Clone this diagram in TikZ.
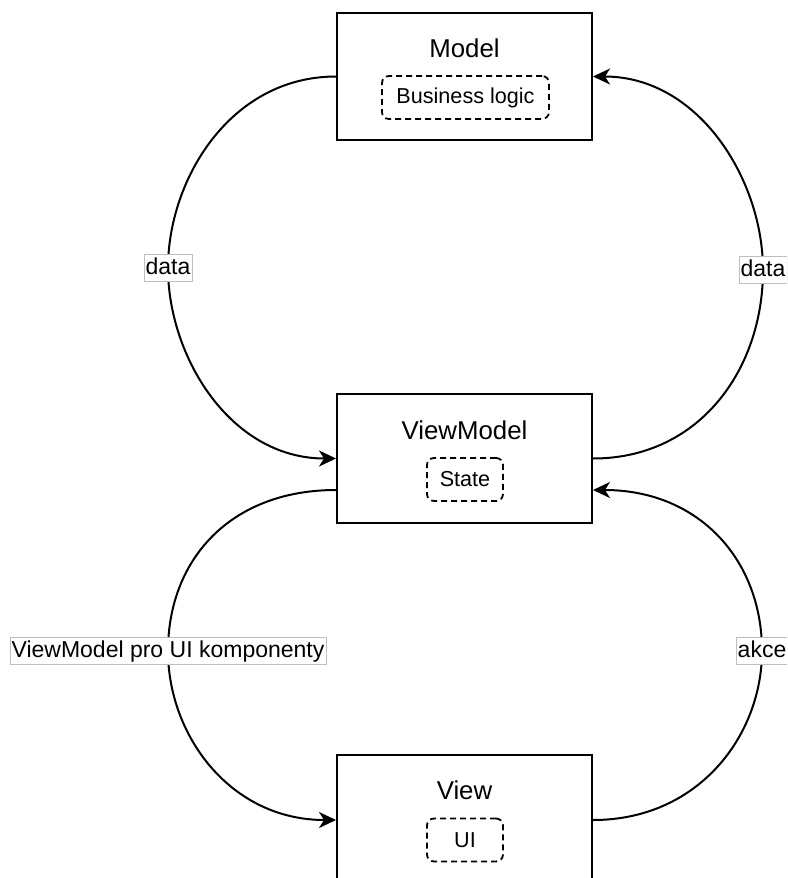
\documentclass[tikz,border=0pt]{standalone}
\usepackage{fontspec}
\setmainfont{Liberation Sans}
\usetikzlibrary{arrows.meta}
\begin{document}
\begin{tikzpicture}[x=1pt,y=-1pt,
  bigbox/.style={draw=black,line width=2pt,fill=white,minimum width=255pt,inner sep=0pt},
  title/.style={font=\fontsize{25.8}{30}\selectfont,inner sep=0pt},
  inner/.style={draw=black,line width=1.8pt,dash pattern=on 6pt off 4pt,rounded corners=7pt,minimum height=43pt,inner sep=0pt,font=\fontsize{21.6}{25}\selectfont},
  edge/.style={line width=2pt,-{Stealth[length=17pt,width=16pt,inset=5pt]}},
  lbl/.style={draw=black!25,line width=0.6pt,fill=white,inner sep=1.5pt,font=\fontsize{23}{27}\selectfont,text height=18pt,text depth=6pt}]
\useasboundingbox (0,0) rectangle (787,878);
\clip (0,0) rectangle (787,878);
% boxes
\node[bigbox,minimum height=127pt] (model) at (464.5,76.5) {};
\node[title] (modelt) at (464.5,48) {Model};
\node[inner,minimum width=167pt] (bl) at (465.5,97.5) {Business logic};
\node[bigbox,minimum height=129pt] (vm) at (464.5,458.5) {};
\node[title] (vmt) at (464.5,430) {ViewModel};
\node[inner,minimum width=76pt] (st) at (465,479.5) {State};
\node[bigbox,minimum height=130pt] (view) at (464.5,820) {};
\node[title] (viewt) at (464.5,790) {View};
\node[inner,minimum width=76pt] (ui) at (465,840) {UI};
% connectors
\draw[edge] (model.west) .. controls (230,76.5) and (168,180) .. (168,268) node[lbl] (l1) {data}
  .. controls (168,356) and (230,458.5) .. (vm.west);
\draw[edge] (vm.east) .. controls (699,458.5) and (763,370) .. (763,270) node[lbl] (l2) {data}
  .. controls (763,180) and (699,76.5) .. (model.east);
\draw[edge] ([yshift=-31.5pt]vm.west) .. controls (230,490) and (168,560) .. (168,651) node[lbl] (l3) {ViewModel pro UI komponenty}
  .. controls (168,735) and (230,820) .. (view.west);
\draw[edge] (view.east) .. controls (699,820) and (762,735) .. (762,651) node[lbl] (l4) {akce}
  .. controls (762,560) and (699,490) .. ([yshift=-31.5pt]vm.east);
\end{tikzpicture}
\end{document}
